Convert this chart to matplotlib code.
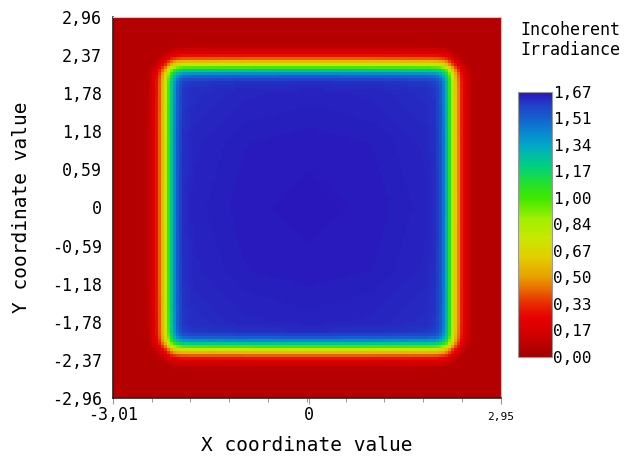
import numpy as np
import matplotlib
matplotlib.use("Agg")
import matplotlib.pyplot as plt
from matplotlib.colors import LinearSegmentedColormap

plt.rcParams['font.family'] = ['DejaVu Sans Mono', 'DejaVu Sans']

# --- data ---
x_min, x_max = -3.01, 2.95
y_min, y_max = -2.96, 2.96
n_cells = 130

# irradiance profile across one edge of the square (distance from centre -> value)
profile_dist = [0.00, 1.00, 1.80, 1.95, 2.02, 2.07, 2.12, 2.18, 2.23, 2.28, 2.34, 2.42, 2.50, 2.60, 3.10]
profile_val = [1.66, 1.655, 1.64, 1.62, 1.56, 1.46, 1.30, 1.00, 0.72, 0.55, 0.33, 0.17, 0.08, 0.06, 0.06]
peak = 1.66

y_tick_labels = ['-2,96', '-2,37', '-1,78', '-1,18', '-0,59', '0',
                 '0,59', '1,18', '1,78', '2,37', '2,96']
x_tick_vals = [-3.01, 0.0, 2.95]
x_tick_labels = ['-3,01', '0', '2,95']
cbar_max = 1.67
cbar_labels = ['0,00', '0,17', '0,33', '0,50', '0,67', '0,84',
               '1,00', '1,17', '1,34', '1,51', '1,67']

cmap_pos = [0.00, 0.08, 0.15, 0.22, 0.30, 0.38, 0.45, 0.52, 0.60, 0.66, 0.72, 0.80, 0.88, 0.95, 1.00]
cmap_hex = ['#a00000', '#d00000', '#e80000', '#e84000', '#e8a000', '#e0d000', '#c8e800',
            '#a0f000', '#40e800', '#20e030', '#00d080', '#00a8c8', '#1070d0', '#2040c8', '#2a14bc']
cmap = LinearSegmentedColormap.from_list('irr', list(zip(cmap_pos, cmap_hex)))

# build the field from the edge profile (separable x * y)
xc = np.linspace(x_min, x_max, n_cells)
yc = np.linspace(y_min, y_max, n_cells)
gx = np.interp(np.abs(xc), profile_dist, profile_val) / peak
gy = np.interp(np.abs(yc), profile_dist, profile_val) / peak
field = peak * np.outer(gy, gx)
field = np.maximum(field, profile_val[-1])

fig = plt.figure(figsize=(6.3, 4.58), dpi=100)
ax = fig.add_axes([0.179, 0.131, 0.616, 0.832])
im = ax.imshow(field, origin='lower', extent=[x_min, x_max, y_min, y_max],
               cmap=cmap, vmin=0, vmax=cbar_max, aspect='auto', interpolation='nearest')
ax.set_xlim(x_min, x_max)
ax.set_ylim(y_min, y_max)

ax.set_yticks(np.linspace(y_min, y_max, 11))
ax.set_yticklabels(y_tick_labels, fontsize=12)
ax.tick_params(axis='y', length=0, pad=8)

ax.set_xticks(x_tick_vals)
ax.set_xticklabels(x_tick_labels, fontsize=12)
ax.set_xticks(np.linspace(x_min, x_max, 11), minor=True)
ax.tick_params(axis='x', which='major', length=4, color='#999999', pad=2)
ax.tick_params(axis='x', which='minor', length=3, color='#888888')
t_end = ax.xaxis.get_major_ticks()[2]
t_end.tick1line.set_markersize(19.5)
t_end.label1.set_fontsize(8)
t_end.set_pad(6)

for s in ['left', 'bottom']:
    ax.spines[s].set_color('#222222')
    ax.spines[s].set_linewidth(1.2)
for s in ['top', 'right']:
    ax.spines[s].set_color('#cccccc')
    ax.spines[s].set_linewidth(0.8)

ax.set_xlabel('X coordinate value', fontsize=14)
ax.xaxis.set_label_coords(0.5, -0.10)
ax.set_ylabel('Y coordinate value', fontsize=14)
ax.yaxis.set_label_coords(-0.21, 0.5)

cax = fig.add_axes([0.822, 0.2205, 0.054, 0.579])
cb = fig.colorbar(im, cax=cax)
cb.set_ticks(np.linspace(0, cbar_max, 11))
cb.set_ticklabels(cbar_labels)
cb.ax.tick_params(length=0, pad=1, labelsize=11.5)
cb.outline.set_edgecolor('#999999')
cb.outline.set_linewidth(0.8)

fig.text(0.826, 0.955, 'Incoherent\nIrradiance', fontsize=12, va='top', ha='left',
         linespacing=1.15)

fig.savefig('out.png', dpi=100)
